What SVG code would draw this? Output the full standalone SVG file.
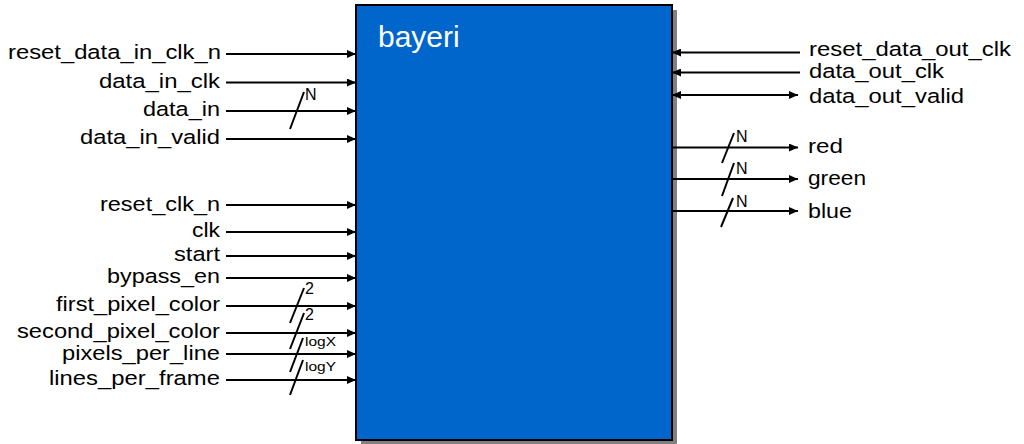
<svg xmlns="http://www.w3.org/2000/svg" width="1024" height="444" viewBox="0 0 1024 444">
<style>
.lbl{font-family:"Liberation Sans",Arial,sans-serif;font-size:20.5px;fill:#000}
.l{text-anchor:end}
.bus{font-family:"Liberation Sans",Arial,sans-serif;font-size:16px;fill:#000}
.bs{font-family:"Liberation Sans",Arial,sans-serif;font-size:13px;fill:#000}
.w{stroke:#000;stroke-width:2;fill:none}
.in{marker-end:url(#ah)}
.sl{stroke:#000;stroke-width:2}
</style>
<defs>
<marker id="ah" markerUnits="userSpaceOnUse" markerWidth="10" markerHeight="8" refX="9" refY="4" orient="auto-start-reverse">
<path d="M0,0 L9,4 L0,8 z" fill="#000"/>
</marker>
</defs>
<rect width="1024" height="444" fill="#fff"/>
<g id="bayeri">
<rect x="361" y="10" width="316" height="435" fill="#808080"/>
<rect x="356" y="5" width="316" height="435" fill="#0066CC" stroke="#000" stroke-width="2"/>
<text x="378" y="46.5" font-family="'Liberation Sans',Arial,sans-serif" font-size="30" fill="#fff">bayeri</text>
</g>
<g id="connectors">
<line class="w in" x1="226" y1="54" x2="356" y2="54"/>
<line class="w in" x1="226" y1="82.5" x2="356" y2="82.5"/>
<line class="w in" x1="226" y1="111" x2="356" y2="111"/>
<line class="w in" x1="226" y1="139" x2="356" y2="139"/>
<line class="w in" x1="226" y1="205" x2="356" y2="205"/>
<line class="w in" x1="226" y1="232" x2="356" y2="232"/>
<line class="w in" x1="226" y1="256" x2="356" y2="256"/>
<line class="w in" x1="226" y1="278" x2="356" y2="278"/>
<line class="w in" x1="226" y1="306" x2="356" y2="306"/>
<line class="w in" x1="226" y1="333" x2="356" y2="333"/>
<line class="w in" x1="226" y1="354" x2="356" y2="354"/>
<line class="w in" x1="226" y1="380" x2="356" y2="380"/>
<line class="w" x1="800" y1="52.5" x2="672" y2="52.5" marker-end="url(#ah)"/>
<line class="w" x1="800" y1="72.5" x2="672" y2="72.5" marker-end="url(#ah)"/>
<line class="w" x1="672" y1="95" x2="798" y2="95" marker-start="url(#ah)" marker-end="url(#ah)"/>
<line class="w in" x1="672" y1="147.5" x2="798" y2="147.5"/>
<line class="w in" x1="672" y1="179" x2="798" y2="179"/>
<line class="w in" x1="672" y1="211" x2="798" y2="211"/>
<line class="sl" x1="290" y1="129" x2="304" y2="92"/>
<line class="sl" x1="290" y1="323" x2="304" y2="288"/>
<line class="sl" x1="290" y1="349" x2="304" y2="313"/>
<line class="sl" x1="290" y1="372" x2="303" y2="338"/>
<line class="sl" x1="290" y1="395" x2="303" y2="360"/>
<line class="sl" x1="722" y1="163" x2="734" y2="133"/>
<line class="sl" x1="722" y1="196" x2="734" y2="163"/>
<line class="sl" x1="721" y1="227" x2="733" y2="198"/>
</g>
<g id="labels">
<text class="lbl l" x="221" y="59" textLength="213" lengthAdjust="spacingAndGlyphs">reset_data_in_clk_n</text>
<text class="lbl l" x="220" y="87.5" textLength="121" lengthAdjust="spacingAndGlyphs">data_in_clk</text>
<text class="lbl l" x="220" y="116" textLength="77" lengthAdjust="spacingAndGlyphs">data_in</text>
<text class="lbl l" x="220" y="144" textLength="140" lengthAdjust="spacingAndGlyphs">data_in_valid</text>
<text class="lbl l" x="220" y="210.5" textLength="120" lengthAdjust="spacingAndGlyphs">reset_clk_n</text>
<text class="lbl l" x="220" y="237" textLength="28" lengthAdjust="spacingAndGlyphs">clk</text>
<text class="lbl l" x="220" y="261" textLength="46" lengthAdjust="spacingAndGlyphs">start</text>
<text class="lbl l" x="220" y="283" textLength="113" lengthAdjust="spacingAndGlyphs">bypass_en</text>
<text class="lbl l" x="220" y="311" textLength="164" lengthAdjust="spacingAndGlyphs">first_pixel_color</text>
<text class="lbl l" x="220" y="338" textLength="203" lengthAdjust="spacingAndGlyphs">second_pixel_color</text>
<text class="lbl l" x="220" y="359.5" textLength="158" lengthAdjust="spacingAndGlyphs">pixels_per_line</text>
<text class="lbl l" x="220" y="385" textLength="171" lengthAdjust="spacingAndGlyphs">lines_per_frame</text>
<text class="lbl" x="809" y="55.5" textLength="202" lengthAdjust="spacingAndGlyphs">reset_data_out_clk</text>
<text class="lbl" x="809" y="77.5" textLength="135" lengthAdjust="spacingAndGlyphs">data_out_clk</text>
<text class="lbl" x="809" y="103" textLength="155" lengthAdjust="spacingAndGlyphs">data_out_valid</text>
<text class="lbl" x="808" y="153" textLength="35" lengthAdjust="spacingAndGlyphs">red</text>
<text class="lbl" x="808" y="185" textLength="58" lengthAdjust="spacingAndGlyphs">green</text>
<text class="lbl" x="808" y="218" textLength="44" lengthAdjust="spacingAndGlyphs">blue</text>
<text class="bus" x="305" y="100">N</text>
<text class="bus" x="305" y="294">2</text>
<text class="bus" x="305" y="320">2</text>
<text class="bs" x="305" y="345.5" textLength="31" lengthAdjust="spacingAndGlyphs">logX</text>
<text class="bs" x="305" y="370.5" textLength="31" lengthAdjust="spacingAndGlyphs">logY</text>
<text class="bus" x="736" y="142">N</text>
<text class="bus" x="736" y="174">N</text>
<text class="bus" x="736" y="207">N</text>
</g>
</svg>
